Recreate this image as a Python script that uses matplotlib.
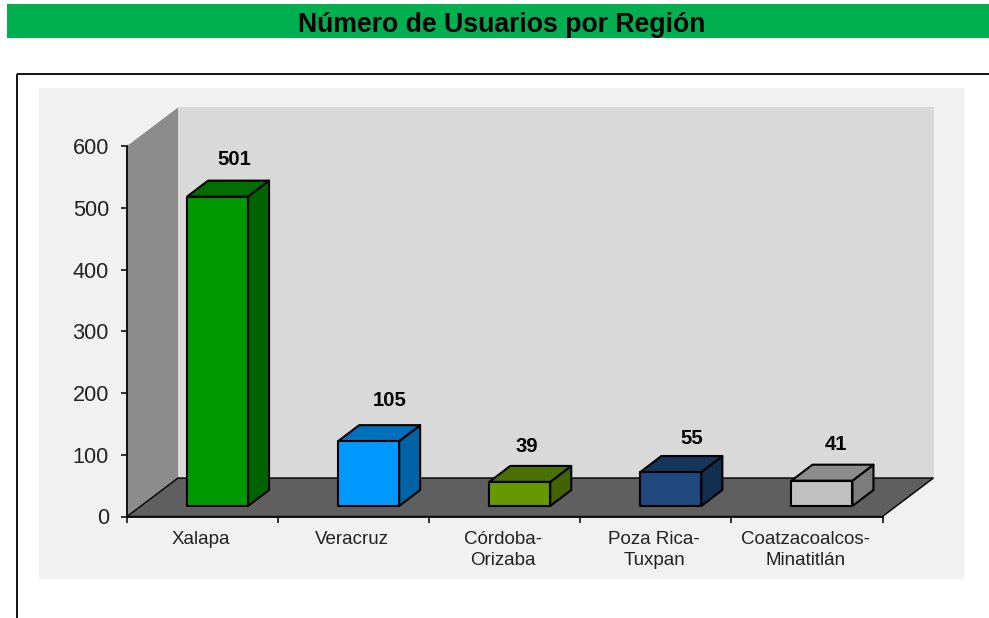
import matplotlib
matplotlib.use("Agg")
import matplotlib.pyplot as plt
from matplotlib.patches import Polygon, Rectangle

plt.rcParams['font.family'] = ['Liberation Sans', 'DejaVu Sans']

title = "Número de Usuarios por Región"
categories = ["Xalapa", "Veracruz", "Córdoba-\nOrizaba", "Poza Rica-\nTuxpan", "Coatzacoalcos-\nMinatitlán"]
values = [501, 105, 39, 55, 41]
front_colors = ["#009900", "#0099FF", "#669900", "#1F497D", "#C0C0C0"]
top_colors = ["#006F00", "#0070BB", "#4A7000", "#16355B", "#8C8C8C"]
side_colors = ["#006300", "#0063A6", "#426300", "#132F50", "#7C7C7C"]
yticks = [0, 100, 200, 300, 400, 500, 600]
label_dx = [17, 21.5, 7.5, 20.5, 14.5]
label_dy = [21.5, 25, 19.5, 17.5, 20.5]

W, H = 989, 618
fig = plt.figure(figsize=(W / 100, H / 100), dpi=100, facecolor="white")

# Page furniture in pixel coordinates
bg = fig.add_axes([0, 0, 1, 1])
bg.set_xlim(0, W)
bg.set_ylim(H, 0)
bg.axis("off")
bg.add_patch(Rectangle((7, 4), 982, 34, fc="#00B050", ec="none"))
bg.text(502, 25, title, ha="center", va="center", fontsize=19.2, fontweight="bold", color="black")
bg.plot([17, 17], [H, 73.5], color="black", lw=1.3, solid_capstyle="butt")
bg.plot([17, W], [73.5, 73.5], color="black", lw=1.3, solid_capstyle="butt")
bg.add_patch(Rectangle((39, 88), 925, 491, fc="#F1F1F1", ec="none"))

# Plot axes: x runs over category slots, y over the value scale
X0, X1, Y0, Y1 = 127, 882.5, 516.5, 146
ax = fig.add_axes([X0 / W, 1 - Y0 / H, (X1 - X0) / W, (Y0 - Y1) / H])
ax.set_xlim(0, len(values))
ax.set_ylim(0, 600)
ax.patch.set_alpha(0)
for s in ("top", "right"):
    ax.spines[s].set_visible(False)
for s in ("left", "bottom"):
    ax.spines[s].set_linewidth(1.4)
    ax.spines[s].set_zorder(6)
    ax.spines[s].set_color("#111111")

px = len(values) / (X1 - X0)      # data units per pixel, x
py = 600 / (Y0 - Y1)              # data units per pixel, y

# Walls and floor of the 3D box
wdx, wdy = 51 * px, 38.5 * py
wall_kw = dict(clip_on=False, zorder=1)
ax.add_patch(Polygon([(wdx, wdy), (5 + wdx, wdy), (5 + wdx, 600 + wdy), (wdx, 600 + wdy)], fc="#D9D9D9", ec="none", **wall_kw))
ax.add_patch(Polygon([(0, 0), (wdx, wdy), (wdx, 600 + wdy), (0, 600)], fc="#8C8C8C", ec="none", **wall_kw))
ax.add_patch(Polygon([(0, 0), (wdx, wdy), (5 + wdx, wdy), (5, 0)], fc="#5F5F5F", ec="black", lw=1.0, **wall_kw))

# 3D bars
bw = 61 * px
ox, oy = 15 * px, 10.5 * py
ddx, ddy = 21 * px, 16 * py
edge = dict(ec="black", lw=1.5, joinstyle="round", clip_on=False, zorder=3)
for i, v in enumerate(values):
    x = i + 0.5 + ox - bw / 2
    b = oy
    t = oy + v
    ax.add_patch(Polygon([(x + bw, b), (x + bw + ddx, b + ddy), (x + bw + ddx, t + ddy), (x + bw, t)], fc=side_colors[i], **edge))
    ax.add_patch(Polygon([(x, t), (x + ddx, t + ddy), (x + bw + ddx, t + ddy), (x + bw, t)], fc=top_colors[i], **edge))
    ax.add_patch(Rectangle((x, b), bw, v, fc=front_colors[i], **edge))
    ax.text(x + bw / 2 + label_dx[i] * px, t + ddy + label_dy[i] * py, str(v), ha="center", va="center",
            fontsize=14.6, fontweight="bold", color="black", zorder=5)

ax.set_xticks(range(len(values) + 1))
ax.set_xticklabels([])
ax.set_yticks(yticks)
ax.tick_params(axis="y", length=4, width=1.2, labelsize=15.6, pad=9, labelcolor="#222222", color="#111111")
ax.tick_params(axis="x", length=4, width=1.2, color="#111111")
for i, c in enumerate(categories):
    ax.text(i + 0.5 - 1.5 * px, -14 * py, c, ha="center", va="top", fontsize=13.5, color="#222222", linespacing=1.36)

fig.savefig("out.png", dpi=100, facecolor="white")
